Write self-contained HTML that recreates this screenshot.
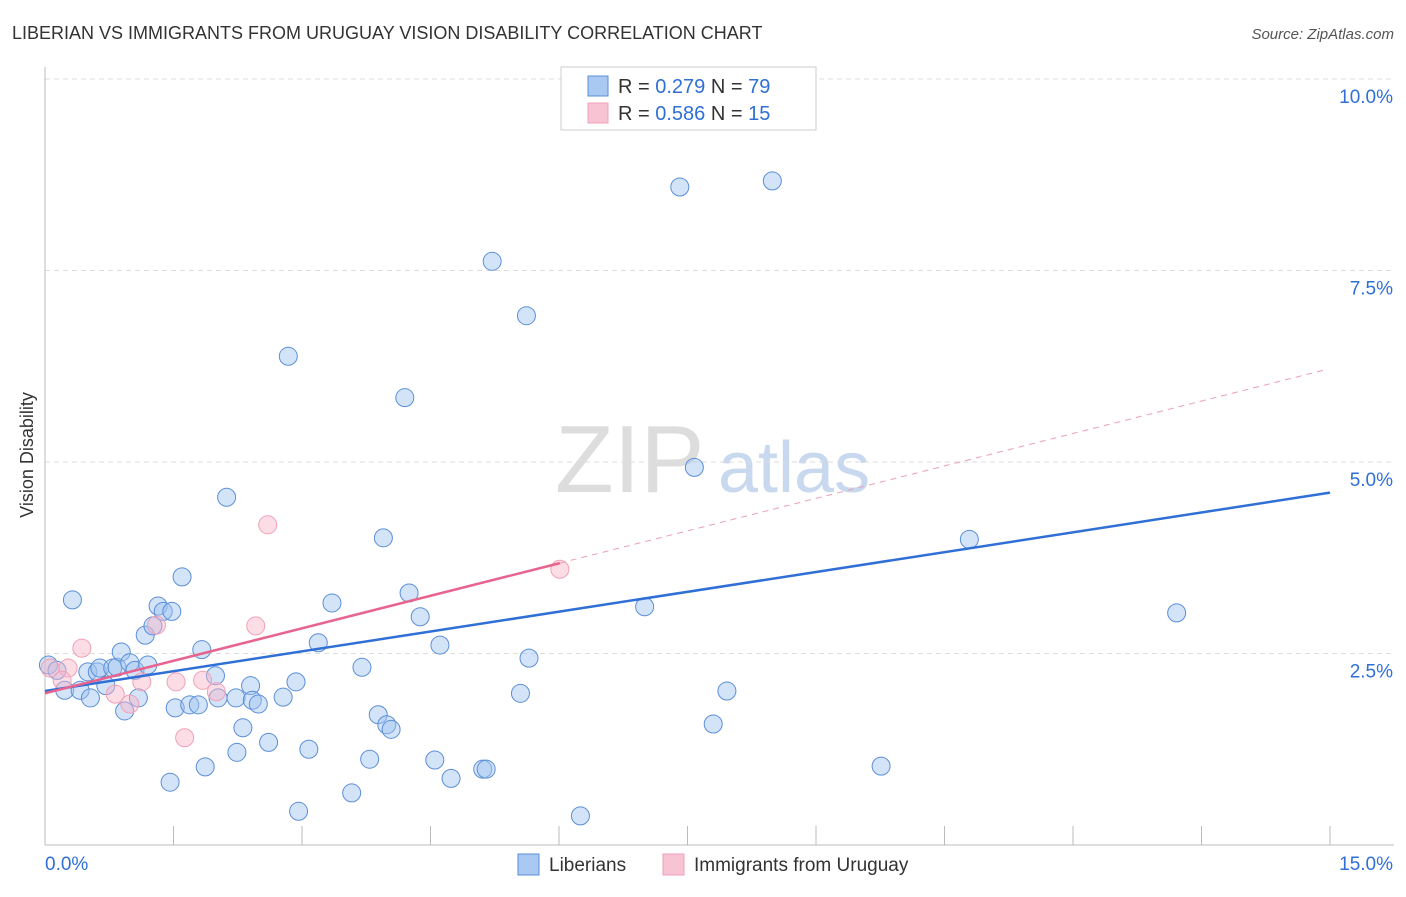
<!DOCTYPE html>
<html><head><meta charset="utf-8"><style>
body{margin:0;background:#fff;font-family:"Liberation Sans",sans-serif;}
svg text{font-family:"Liberation Sans",sans-serif;}
</style></head><body>
<svg id="c" width="1406" height="892">
<text x="12" y="39" font-size="18" fill="#333">LIBERIAN VS IMMIGRANTS FROM URUGUAY VISION DISABILITY CORRELATION CHART</text>
<text x="1394" y="39" font-size="15" fill="#555" text-anchor="end" font-style="italic">Source: ZipAtlas.com</text>
<text x="33" y="455" font-size="18" fill="#333" text-anchor="middle" transform="rotate(-90 33 455)">Vision Disability</text>
<text x="555" y="492" font-size="96" fill="#ddd" font-family="Liberation Serif">ZIP</text>
<text x="718" y="492" font-size="72" fill="#c8d8ee">atlas</text>
<g id="grid"></g><g id="axes"></g><g id="pts"></g><g id="lines"></g>
<g>
<rect x="561" y="67" width="255" height="63" fill="#fff" stroke="#ccc"/>
<rect x="588" y="76" width="20" height="20" fill="#a9c8f2" stroke="#5b8fd8"/>
<text x="618" y="93" font-size="20" fill="#333">R = <tspan fill="#2f6fd6">0.279</tspan>   N = <tspan fill="#2f6fd6">79</tspan></text>
<rect x="588" y="103" width="20" height="20" fill="#f8c4d4" stroke="#f0a0b8"/>
<text x="618" y="120" font-size="20" fill="#333">R = <tspan fill="#2f6fd6">0.586</tspan>   N = <tspan fill="#2f6fd6">15</tspan></text>
</g>
<g>
<rect x="518" y="854" width="21" height="21" fill="#a9c8f2" stroke="#5b8fd8"/>
<text x="549" y="871" font-size="19" fill="#333">Liberians</text>
<rect x="663" y="854" width="21" height="21" fill="#f8c4d4" stroke="#f0a0b8"/>
<text x="694" y="871" font-size="19" fill="#333">Immigrants from Uruguay</text>
</g>
</svg>
<script>
const blueX=[0.32,0.04,0.14,0.23,0.41,0.53,0.50,0.61,0.64,0.71,0.79,0.84,0.89,0.93,0.99,1.05,1.09,1.17,1.20,1.26,1.32,1.38,1.48,1.60,1.46,1.52,1.69,1.79,1.83,1.87,1.99,2.02,2.12,2.23,2.24,2.31,2.40,2.42,2.49,2.61,2.78,2.84,2.93,2.96,3.08,3.19,3.35,3.58,3.70,3.79,3.89,3.95,3.99,4.04,4.20,4.25,4.38,4.55,4.61,4.74,5.11,5.15,5.22,5.55,5.62,5.65,6.25,7.00,7.41,7.58,7.80,7.96,8.49,9.76,10.79,13.21];
const blueY=[3.20,2.35,2.28,2.02,2.02,1.92,2.26,2.26,2.31,2.08,2.31,2.32,2.52,1.75,2.38,2.28,1.92,2.74,2.35,2.86,3.12,3.05,3.05,3.50,0.82,1.79,1.83,1.83,2.55,1.02,2.21,1.92,4.54,1.92,1.21,1.53,2.08,1.89,1.84,1.34,1.93,6.38,2.13,0.44,1.25,2.64,3.16,0.68,2.32,1.12,1.70,4.01,1.57,1.51,5.84,3.29,2.98,1.11,2.61,0.87,0.99,0.99,7.62,1.98,6.91,2.44,0.38,3.11,8.59,4.93,1.58,2.01,8.67,1.03,3.99,3.03];
const pinkX=[0.06,0.27,0.43,0.82,0.99,1.13,1.30,1.53,1.63,1.84,2.00,2.46,2.60,6.01,0.20];
const pinkY=[2.31,2.31,2.57,1.97,1.84,2.13,2.87,2.13,1.40,2.15,2.00,2.86,4.18,3.60,2.15];
const blueFit=[2.01,4.60];
const pinkFit=[1.98,3.68,6.20];
const xTicks=["0.0%","15.0%"];
const yTicks=[2.5,5.0,7.5,10.0];
const NS="http://www.w3.org/2000/svg";
const sx=v=>45+v/15*1285, sy=v=>845-v/2.5*191.5;
function mk(p,t,a){const e=document.createElementNS(NS,t);for(const k in a)e.setAttribute(k,a[k]);document.getElementById(p).appendChild(e);return e;}
yTicks.forEach(t=>{
 const l=mk('grid','line',{x1:45,x2:1394,y1:sy(t),y2:sy(t),stroke:'#ddd','stroke-dasharray':'5,4'});
 
 
 const tx=mk('grid','text',{x:1393,y:sy(t)+24,'font-size':19,fill:'#2f6fd6','text-anchor':'end'});
 tx.textContent=t.toFixed(1)+'%';
 
 
});
mk('axes','line',{x1:45,x2:45,y1:67,y2:845,stroke:'#bbb'});
mk('axes','line',{x1:45,x2:1394,y1:845,y2:845,stroke:'#bbb'});
for(let i=0;i<=10;i++){const t=mk('axes','line',{x1:sx(i*1.5),x2:sx(i*1.5),y1:826,y2:845,stroke:'#bbb'});
 
 }
const xl=mk('axes','text',{x:45,y:870,'font-size':19,fill:'#2f6fd6'});xl.textContent=xTicks[0];


const xr=mk('axes','text',{x:1393,y:870,'font-size':19,fill:'#2f6fd6','text-anchor':'end'});xr.textContent=xTicks[1];


blueX.forEach((x,i)=>{const c=mk('pts','circle',{cx:sx(x),cy:sy(blueY[i]),r:9,fill:'rgba(160,196,240,0.45)',stroke:'#5b8fd8','stroke-width':1});
 
 });
pinkX.forEach((x,i)=>{const c=mk('pts','circle',{cx:sx(x),cy:sy(pinkY[i]),r:9,fill:'rgba(248,180,200,0.45)',stroke:'#f0a0b8','stroke-width':1});
 
 });
const bl=mk('lines','line',{x1:sx(0),y1:sy(blueFit[0]),x2:sx(15),y2:sy(blueFit[1]),stroke:'#2f6fd6','stroke-width':2.5});


const pl=mk('lines','line',{x1:sx(0),y1:sy(pinkFit[0]),x2:sx(6.01),y2:sy(pinkFit[1]),stroke:'#e8638e','stroke-width':2.5});


const pd=mk('lines','line',{x1:sx(6.01),y1:sy(pinkFit[1]),x2:sx(14.93),y2:sy(pinkFit[2]),stroke:'#e8a0b8','stroke-width':1,'stroke-dasharray':'6,5'});


</script>
</body></html>
